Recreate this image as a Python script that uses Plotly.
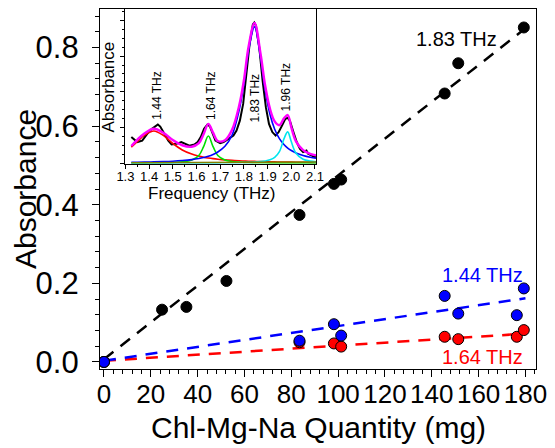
import plotly.graph_objects as go

# ---------------- main chart data ----------------
qty_183 = [0, 24.8, 35.2, 52.3, 83.5, 98.2, 101.3, 145.5, 151.3, 179.3]
abs_183 = [0, 0.133, 0.140, 0.206, 0.374, 0.453, 0.464, 0.683, 0.760, 0.851]

qty_low = [0, 83.5, 98.2, 101.3, 145.5, 151.3, 176.3, 179.3]
abs_144 = [0, 0.054, 0.096, 0.067, 0.168, 0.123, 0.119, 0.187]
abs_164 = [0, 0.050, 0.047, 0.039, 0.064, 0.058, 0.064, 0.081]

fit_x = [0, 180]
fit_183 = [0.007, 0.849]
fit_144 = [0.003, 0.162]
fit_164 = [0.003, 0.072]

x_ticks = [0, 20, 40, 60, 80, 100, 120, 140, 160, 180]
y_ticks = [0.0, 0.2, 0.4, 0.6, 0.8]

# ---------------- inset data ----------------
meas_freq = [1.325, 1.35, 1.371, 1.392, 1.412, 1.426, 1.437, 1.447, 1.46, 1.481, 1.495,
             1.515, 1.536, 1.55, 1.57, 1.591, 1.605, 1.618, 1.632, 1.646, 1.657, 1.666,
             1.68, 1.70, 1.714, 1.735, 1.756, 1.769, 1.783, 1.797, 1.81, 1.824, 1.838,
             1.844, 1.851, 1.865, 1.879, 1.893, 1.906, 1.92, 1.934, 1.947, 1.961, 1.975,
             1.986, 1.995, 2.009, 2.023, 2.037, 2.05, 2.064, 2.071, 2.085, 2.099, 2.105]
meas_abs = [0.073, 0.059, 0.063, 0.082, 0.096, 0.1025, 0.108, 0.1025, 0.087, 0.063, 0.052,
            0.054, 0.059, 0.054, 0.049, 0.052, 0.059, 0.073, 0.096, 0.108, 0.1025, 0.087,
            0.063, 0.056, 0.059, 0.068, 0.077, 0.091, 0.119, 0.166, 0.240, 0.333, 0.389,
            0.394, 0.385, 0.324, 0.231, 0.156, 0.110, 0.087, 0.077, 0.087, 0.105, 0.124,
            0.127, 0.117, 0.087, 0.059, 0.040, 0.031, 0.035, 0.026, 0.0215, 0.017, 0.019]

fit_freq = [1.325, 1.35, 1.38, 1.42, 1.46, 1.50, 1.54, 1.58, 1.61, 1.63, 1.65, 1.67, 1.69,
            1.72, 1.75, 1.78, 1.80, 1.82, 1.845, 1.87, 1.89, 1.91, 1.93, 1.95, 1.97, 1.985,
            2.00, 2.02, 2.05, 2.08, 2.105]
red_fit = [0.045, 0.060, 0.0776, 0.090, 0.0776, 0.0549, 0.0369, 0.0253, 0.0195, 0.0166,
           0.0143, 0.0124, 0.0109, 0.009, 0.0076, 0.0064, 0.0058, 0.0053, 0.0047, 0.0042,
           0.0039, 0.0036, 0.0033, 0.0031, 0.0029, 0.0027, 0.0026, 0.0024, 0.0022, 0.0020, 0.0019]
green_fit = [0.0005, 0.0005, 0.0007, 0.0009, 0.0013, 0.0021, 0.0037, 0.0086, 0.0213, 0.0463,
             0.076, 0.0463, 0.0213, 0.0086, 0.0045, 0.0027, 0.0021, 0.0016, 0.0012, 0.0010,
             0.0008, 0.0007, 0.0006, 0.0005, 0.0005, 0.0004, 0.0004, 0.0004, 0.0003, 0.0003, 0.0002]
blue_fit = [0.0020, 0.0023, 0.0027, 0.0033, 0.0041, 0.0053, 0.0071, 0.0097, 0.0127, 0.0155,
            0.019, 0.024, 0.031, 0.047, 0.078, 0.148, 0.220, 0.316, 0.382, 0.297, 0.204,
            0.137, 0.095, 0.0686, 0.0514, 0.0422, 0.0353, 0.0284, 0.0212, 0.0163, 0.0135]
cyan_fit = [0.0001, 0.0001, 0.00015, 0.00017, 0.0002, 0.00024, 0.00028, 0.00034, 0.0004,
            0.00044, 0.0005, 0.00056, 0.00064, 0.0008, 0.001, 0.0013, 0.0016, 0.002, 0.0028,
            0.0041, 0.0059, 0.0092, 0.016, 0.0321, 0.0693, 0.0874, 0.0603, 0.0276, 0.0108,
            0.0055, 0.0035]
sum_fit = [0.048, 0.0653, 0.0831, 0.0964, 0.0852, 0.0645, 0.050, 0.0459, 0.0559, 0.0808,
           0.110, 0.0853, 0.062, 0.064, 0.0931, 0.1604, 0.2315, 0.3269, 0.3927, 0.3083,
           0.2166, 0.1525, 0.1169, 0.1063, 0.1261, 0.1347, 0.1006, 0.0608, 0.0365, 0.026, 0.0215]
base_freq = [1.325, 2.105]
base_fit = [0.001, 0.003]

peak_labels = ["1.44 THz", "1.64 THz", "1.83 THz", "1.96 THz"]
peak_label_x = [1.432, 1.658, 1.845, 1.976]
peak_label_y = [0.188, 0.189, 0.180, 0.211]

FONT = "Liberation Sans, Arial, sans-serif"
DASH = "12px,9px"

fig = go.Figure()

# fit lines (main)
fig.add_trace(go.Scatter(x=fit_x, y=fit_183, mode="lines", xaxis="x", yaxis="y",
                         line=dict(color="black", width=2.5, dash=DASH), showlegend=False))
fig.add_trace(go.Scatter(x=fit_x, y=fit_164, mode="lines", xaxis="x", yaxis="y",
                         line=dict(color="#FF0000", width=2.5, dash=DASH), showlegend=False))
fig.add_trace(go.Scatter(x=fit_x, y=fit_144, mode="lines", xaxis="x", yaxis="y",
                         line=dict(color="#0000FF", width=2.5, dash=DASH), showlegend=False))
# markers (main)
fig.add_trace(go.Scatter(x=qty_183, y=abs_183, mode="markers", xaxis="x", yaxis="y",
                         marker=dict(color="black", size=11, line=dict(color="black", width=1)),
                         showlegend=False))
fig.add_trace(go.Scatter(x=qty_low, y=abs_164, mode="markers", xaxis="x", yaxis="y",
                         marker=dict(color="#FF0000", size=11, line=dict(color="black", width=1)),
                         showlegend=False))
fig.add_trace(go.Scatter(x=qty_low, y=abs_144, mode="markers", xaxis="x", yaxis="y",
                         marker=dict(color="#0000FF", size=11, line=dict(color="black", width=1)),
                         showlegend=False))

# inset traces
fig.add_trace(go.Scatter(x=meas_freq, y=meas_abs, mode="lines", xaxis="x2", yaxis="y2",
                         line=dict(color="black", width=2), showlegend=False))
for ys, col in [(red_fit, "#FF0000"), (green_fit, "#00DD00"), (blue_fit, "#0000FF"),
                (cyan_fit, "#00E5EE")]:
    fig.add_trace(go.Scatter(x=fit_freq, y=ys, mode="lines", xaxis="x2", yaxis="y2",
                             line=dict(color=col, width=1.6, shape="spline"), showlegend=False))
fig.add_trace(go.Scatter(x=base_freq, y=base_fit, mode="lines", xaxis="x2", yaxis="y2",
                         line=dict(color="#808000", width=1.6), showlegend=False))
fig.add_trace(go.Scatter(x=fit_freq, y=sum_fit, mode="lines", xaxis="x2", yaxis="y2",
                         line=dict(color="#FF00FF", width=2.4, shape="spline"), showlegend=False))

C = dict(xanchor="center", yanchor="middle", showarrow=False)
annotations = [
    dict(text="1.83 THz", x=150.5, y=0.822, xref="x", yref="y",
         font=dict(size=20, color="black", family=FONT), **C),
    dict(text="1.44 THz", x=161.5, y=0.221, xref="x", yref="y",
         font=dict(size=20, color="#0000FF", family=FONT), **C),
    dict(text="1.64 THz", x=161.5, y=0.0114, xref="x", yref="y",
         font=dict(size=20, color="#FF0000", family=FONT), **C),
    dict(text="Absorbance", x=-0.172, y=0.5, xref="paper", yref="paper",
         textangle=-90, font=dict(size=30, color="black", family=FONT), **C),
    dict(text="Chl-Mg-Na Quantity (mg)", x=0.5, y=-0.163, xref="paper", yref="paper",
         font=dict(size=30, color="black", family=FONT), **C),
    dict(text="Frequency (THz)", x=0.257, y=0.4875, xref="paper", yref="paper",
         font=dict(size=17, color="black", family=FONT), **C),
    dict(text="Absorbance", x=0.020, y=0.784, xref="paper", yref="paper",
         textangle=-90, font=dict(size=17, color="black", family=FONT), **C),
]
for t, xx, yy in zip(peak_labels, peak_label_x, peak_label_y):
    annotations.append(dict(text=t, x=xx, y=yy, xref="x2", yref="y2", textangle=-90,
                            font=dict(size=12, color="black", family=FONT), **C))

fig.update_layout(
    width=555, height=448,
    margin=dict(l=100, r=8, t=8, b=79),
    paper_bgcolor="white", plot_bgcolor="white",
    font=dict(family=FONT, color="black"),
    annotations=annotations,
    xaxis=dict(range=[-1.7, 184.5], tickvals=x_ticks, ticks="outside", ticklen=7, tickwidth=1.2,
               tickcolor="black", showline=True, mirror=True, linecolor="black", linewidth=1.3,
               showgrid=False, zeroline=False, tickfont=dict(size=26, family=FONT),
               ticklabelstandoff=-5,
               minor=dict(dtick=4, tick0=0, ticks="outside", ticklen=4, tickcolor="black",
                          showgrid=False)),
    yaxis=dict(range=[-0.018, 0.898], tickvals=y_ticks, tickformat=".1f", ticks="outside",
               ticklen=7, tickwidth=1.2, tickcolor="black", showline=True, mirror=True,
               linecolor="black", linewidth=1.3, showgrid=False, zeroline=False,
               tickfont=dict(size=31, family=FONT), ticklabelstandoff=7,
               minor=dict(dtick=0.04, tick0=0, ticks="outside", ticklen=4, tickcolor="black",
                          showgrid=False)),
    xaxis2=dict(domain=[0.058, 0.496], anchor="y2", range=[1.2995, 2.1055], dtick=0.1,
                tick0=1.3, tickformat=".1f", ticks="outside", ticklen=4, tickcolor="black",
                showline=True, mirror=True, linecolor="black", linewidth=1, showgrid=False,
                zeroline=False, tickfont=dict(size=13, family=FONT), ticklabelstandoff=-3,
                minor=dict(dtick=0.05, ticks="outside", ticklen=2, tickcolor="black",
                           showgrid=False)),
    yaxis2=dict(domain=[0.570, 1.0], anchor="x2", range=[-0.002, 0.432], dtick=0.1, tick0=0,
                ticks="outside", ticklen=4, tickcolor="black", showticklabels=False,
                showline=True, mirror=True, linecolor="black", linewidth=1, showgrid=False,
                zeroline=False,
                minor=dict(dtick=0.025, ticks="outside", ticklen=2, tickcolor="black",
                           showgrid=False)),
)

fig.write_html("out.html")
